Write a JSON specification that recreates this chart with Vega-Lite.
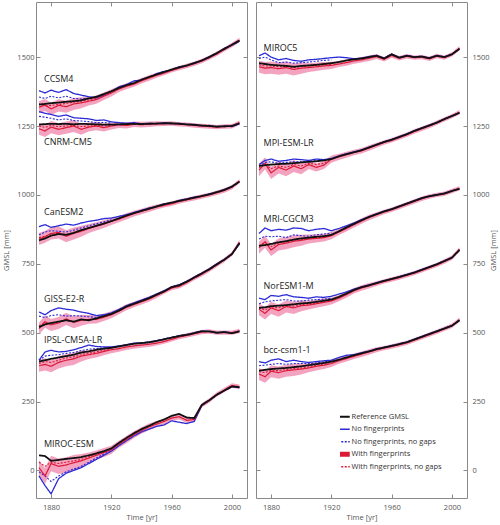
{
"$schema": "https://vega.github.io/schema/vega-lite/v6.json",
"padding": {"left": 2, "top": 1, "right": 2, "bottom": 2},
"spacing": 6,
"datasets": {
"series": [
{"p":1,"m":"CCSM4","t":1872,"r":1328,"nf":1378,"ng":1355,"wf":1318,"wg":1330,"lo":1296,"hi":1340},
{"p":1,"m":"CCSM4","t":1876,"r":1330,"nf":1370,"ng":1350,"wf":1326,"wg":1322,"lo":1304,"hi":1348},
{"p":1,"m":"CCSM4","t":1880,"r":1333,"nf":1380,"ng":1358,"wf":1312,"wg":1325,"lo":1290,"hi":1334},
{"p":1,"m":"CCSM4","t":1885,"r":1335,"nf":1372,"ng":1352,"wf":1325,"wg":1328,"lo":1303,"hi":1347},
{"p":1,"m":"CCSM4","t":1890,"r":1338,"nf":1382,"ng":1358,"wf":1320,"wg":1332,"lo":1298,"hi":1342},
{"p":1,"m":"CCSM4","t":1895,"r":1340,"nf":1368,"ng":1350,"wf":1330,"wg":1336,"lo":1308,"hi":1352},
{"p":1,"m":"CCSM4","t":1900,"r":1343,"nf":1362,"ng":1348,"wf":1334,"wg":1340,"lo":1314,"hi":1354},
{"p":1,"m":"CCSM4","t":1905,"r":1350,"nf":1356,"ng":1350,"wf":1340,"wg":1345,"lo":1324,"hi":1356},
{"p":1,"m":"CCSM4","t":1910,"r":1356,"nf":1352,"ng":1352,"wf":1346,"wg":1352,"lo":1331,"hi":1361},
{"p":1,"m":"CCSM4","t":1915,"r":1366,"nf":1362,"ng":1362,"wf":1358,"wg":1362,"lo":1344,"hi":1372},
{"p":1,"m":"CCSM4","t":1920,"r":1376,"nf":1376,"ng":1375,"wf":1370,"wg":1372,"lo":1357,"hi":1383},
{"p":1,"m":"CCSM4","t":1925,"r":1388,"nf":1392,"wf":1384,"lo":1373,"hi":1395},
{"p":1,"m":"CCSM4","t":1930,"r":1398,"nf":1400,"wf":1394,"lo":1383,"hi":1405},
{"p":1,"m":"CCSM4","t":1935,"r":1406,"nf":1414,"wf":1402,"lo":1392,"hi":1412},
{"p":1,"m":"CCSM4","t":1940,"r":1418,"nf":1416,"wf":1414,"lo":1404,"hi":1424},
{"p":1,"m":"CCSM4","t":1945,"r":1428,"nf":1426,"wf":1424,"lo":1414,"hi":1434},
{"p":1,"m":"CCSM4","t":1950,"r":1437,"nf":1440,"wf":1434,"lo":1425,"hi":1443},
{"p":1,"m":"CCSM4","t":1955,"r":1446,"nf":1448,"wf":1442,"lo":1434,"hi":1450},
{"p":1,"m":"CCSM4","t":1960,"r":1455,"nf":1452,"wf":1452,"lo":1444,"hi":1460},
{"p":1,"m":"CCSM4","t":1965,"r":1463,"nf":1465,"wf":1460,"lo":1452,"hi":1468},
{"p":1,"m":"CCSM4","t":1970,"r":1470,"nf":1468,"wf":1468,"lo":1460,"hi":1476},
{"p":1,"m":"CCSM4","t":1975,"r":1478,"nf":1480,"wf":1476,"lo":1468,"hi":1484},
{"p":1,"m":"CCSM4","t":1980,"r":1488,"nf":1486,"wf":1486,"lo":1478,"hi":1494},
{"p":1,"m":"CCSM4","t":1985,"r":1500,"nf":1502,"wf":1498,"lo":1490,"hi":1506},
{"p":1,"m":"CCSM4","t":1990,"r":1515,"nf":1512,"wf":1512,"lo":1504,"hi":1520},
{"p":1,"m":"CCSM4","t":1995,"r":1530,"nf":1532,"wf":1528,"lo":1520,"hi":1536},
{"p":1,"m":"CCSM4","t":2000,"r":1545,"nf":1543,"wf":1544,"lo":1536,"hi":1552},
{"p":1,"m":"CCSM4","t":2005,"r":1560,"nf":1558,"wf":1562,"lo":1554,"hi":1570},

{"p":1,"m":"CNRM-CM5","t":1872,"r":1255,"nf":1302,"ng":1285,"wf":1240,"wg":1250,"lo":1218,"hi":1262},
{"p":1,"m":"CNRM-CM5","t":1876,"r":1257,"nf":1296,"ng":1282,"wf":1232,"wg":1245,"lo":1210,"hi":1254},
{"p":1,"m":"CNRM-CM5","t":1880,"r":1258,"nf":1292,"ng":1278,"wf":1246,"wg":1252,"lo":1224,"hi":1268},
{"p":1,"m":"CNRM-CM5","t":1885,"r":1257,"nf":1285,"ng":1272,"wf":1238,"wg":1248,"lo":1216,"hi":1260},
{"p":1,"m":"CNRM-CM5","t":1890,"r":1258,"nf":1290,"ng":1276,"wf":1244,"wg":1250,"lo":1222,"hi":1266},
{"p":1,"m":"CNRM-CM5","t":1895,"r":1256,"nf":1280,"ng":1270,"wf":1250,"wg":1252,"lo":1228,"hi":1272},
{"p":1,"m":"CNRM-CM5","t":1900,"r":1258,"nf":1278,"ng":1268,"wf":1238,"wg":1248,"lo":1218,"hi":1258},
{"p":1,"m":"CNRM-CM5","t":1905,"r":1257,"nf":1276,"ng":1266,"wf":1246,"wg":1250,"lo":1230,"hi":1262},
{"p":1,"m":"CNRM-CM5","t":1910,"r":1256,"nf":1270,"ng":1262,"wf":1250,"wg":1252,"lo":1235,"hi":1265},
{"p":1,"m":"CNRM-CM5","t":1915,"r":1255,"nf":1272,"ng":1263,"wf":1244,"wg":1250,"lo":1230,"hi":1258},
{"p":1,"m":"CNRM-CM5","t":1920,"r":1255,"nf":1265,"ng":1260,"wf":1250,"wg":1253,"lo":1237,"hi":1263},
{"p":1,"m":"CNRM-CM5","t":1925,"r":1256,"nf":1262,"wf":1254,"lo":1243,"hi":1265},
{"p":1,"m":"CNRM-CM5","t":1930,"r":1257,"nf":1260,"wf":1252,"lo":1241,"hi":1263},
{"p":1,"m":"CNRM-CM5","t":1935,"r":1258,"nf":1262,"wf":1256,"lo":1246,"hi":1266},
{"p":1,"m":"CNRM-CM5","t":1940,"r":1257,"nf":1258,"wf":1255,"lo":1245,"hi":1265},
{"p":1,"m":"CNRM-CM5","t":1945,"r":1258,"nf":1260,"wf":1256,"lo":1246,"hi":1266},
{"p":1,"m":"CNRM-CM5","t":1950,"r":1259,"nf":1258,"wf":1258,"lo":1249,"hi":1267},
{"p":1,"m":"CNRM-CM5","t":1955,"r":1260,"nf":1262,"wf":1258,"lo":1250,"hi":1266},
{"p":1,"m":"CNRM-CM5","t":1960,"r":1260,"nf":1258,"wf":1259,"lo":1251,"hi":1267},
{"p":1,"m":"CNRM-CM5","t":1965,"r":1258,"nf":1260,"wf":1256,"lo":1248,"hi":1264},
{"p":1,"m":"CNRM-CM5","t":1970,"r":1256,"nf":1255,"wf":1255,"lo":1247,"hi":1263},
{"p":1,"m":"CNRM-CM5","t":1975,"r":1254,"nf":1256,"wf":1252,"lo":1244,"hi":1260},
{"p":1,"m":"CNRM-CM5","t":1980,"r":1252,"nf":1250,"wf":1250,"lo":1242,"hi":1258},
{"p":1,"m":"CNRM-CM5","t":1985,"r":1250,"nf":1252,"wf":1248,"lo":1240,"hi":1256},
{"p":1,"m":"CNRM-CM5","t":1990,"r":1248,"nf":1246,"wf":1246,"lo":1238,"hi":1254},
{"p":1,"m":"CNRM-CM5","t":1995,"r":1249,"nf":1250,"wf":1248,"lo":1240,"hi":1256},
{"p":1,"m":"CNRM-CM5","t":2000,"r":1250,"nf":1248,"wf":1249,"lo":1241,"hi":1257},
{"p":1,"m":"CNRM-CM5","t":2005,"r":1260,"nf":1258,"wf":1262,"lo":1254,"hi":1270},

{"p":1,"m":"CanESM2","t":1872,"r":835,"nf":885,"ng":855,"wf":840,"wg":845,"lo":818,"hi":862},
{"p":1,"m":"CanESM2","t":1876,"r":842,"nf":892,"ng":865,"wf":848,"wg":850,"lo":826,"hi":870},
{"p":1,"m":"CanESM2","t":1880,"r":852,"nf":882,"ng":870,"wf":860,"wg":858,"lo":838,"hi":882},
{"p":1,"m":"CanESM2","t":1885,"r":858,"nf":888,"ng":868,"wf":864,"wg":860,"lo":842,"hi":886},
{"p":1,"m":"CanESM2","t":1890,"r":855,"nf":894,"ng":865,"wf":850,"wg":856,"lo":828,"hi":872},
{"p":1,"m":"CanESM2","t":1895,"r":862,"nf":890,"ng":872,"wf":860,"wg":864,"lo":838,"hi":882},
{"p":1,"m":"CanESM2","t":1900,"r":872,"nf":898,"ng":880,"wf":868,"wg":872,"lo":848,"hi":888},
{"p":1,"m":"CanESM2","t":1905,"r":880,"nf":904,"ng":888,"wf":878,"wg":880,"lo":862,"hi":894},
{"p":1,"m":"CanESM2","t":1910,"r":888,"nf":908,"ng":895,"wf":886,"wg":888,"lo":871,"hi":901},
{"p":1,"m":"CanESM2","t":1915,"r":896,"nf":914,"ng":902,"wf":894,"wg":896,"lo":880,"hi":908},
{"p":1,"m":"CanESM2","t":1920,"r":905,"nf":916,"ng":910,"wf":904,"wg":905,"lo":891,"hi":917},
{"p":1,"m":"CanESM2","t":1925,"r":915,"nf":922,"wf":912,"lo":901,"hi":923},
{"p":1,"m":"CanESM2","t":1930,"r":925,"nf":928,"wf":922,"lo":911,"hi":933},
{"p":1,"m":"CanESM2","t":1935,"r":934,"nf":936,"wf":932,"lo":922,"hi":942},
{"p":1,"m":"CanESM2","t":1940,"r":942,"nf":944,"wf":940,"lo":930,"hi":950},
{"p":1,"m":"CanESM2","t":1945,"r":950,"nf":952,"wf":948,"lo":938,"hi":958},
{"p":1,"m":"CanESM2","t":1950,"r":958,"nf":958,"wf":956,"lo":947,"hi":965},
{"p":1,"m":"CanESM2","t":1955,"r":966,"nf":968,"wf":962,"lo":954,"hi":970},
{"p":1,"m":"CanESM2","t":1960,"r":972,"nf":970,"wf":968,"lo":960,"hi":976},
{"p":1,"m":"CanESM2","t":1965,"r":978,"nf":980,"wf":976,"lo":968,"hi":984},
{"p":1,"m":"CanESM2","t":1970,"r":984,"nf":985,"wf":982,"lo":974,"hi":990},
{"p":1,"m":"CanESM2","t":1975,"r":990,"nf":992,"wf":988,"lo":980,"hi":996},
{"p":1,"m":"CanESM2","t":1980,"r":996,"nf":995,"wf":994,"lo":986,"hi":1002},
{"p":1,"m":"CanESM2","t":1985,"r":1002,"nf":1004,"wf":1000,"lo":992,"hi":1008},
{"p":1,"m":"CanESM2","t":1990,"r":1010,"nf":1010,"wf":1008,"lo":1000,"hi":1016},
{"p":1,"m":"CanESM2","t":1995,"r":1018,"nf":1020,"wf":1016,"lo":1008,"hi":1024},
{"p":1,"m":"CanESM2","t":2000,"r":1030,"nf":1030,"wf":1028,"lo":1020,"hi":1036},
{"p":1,"m":"CanESM2","t":2005,"r":1048,"nf":1048,"wf":1050,"lo":1042,"hi":1058},

{"p":1,"m":"GISS-E2-R","t":1872,"r":520,"nf":575,"ng":560,"wf":515,"wg":525,"lo":493,"hi":537},
{"p":1,"m":"GISS-E2-R","t":1876,"r":530,"nf":565,"ng":555,"wf":540,"wg":535,"lo":518,"hi":562},
{"p":1,"m":"GISS-E2-R","t":1880,"r":535,"nf":580,"ng":562,"wf":528,"wg":532,"lo":506,"hi":550},
{"p":1,"m":"GISS-E2-R","t":1885,"r":540,"nf":590,"ng":565,"wf":535,"wg":538,"lo":513,"hi":557},
{"p":1,"m":"GISS-E2-R","t":1890,"r":545,"nf":585,"ng":560,"wf":550,"wg":545,"lo":528,"hi":572},
{"p":1,"m":"GISS-E2-R","t":1895,"r":540,"nf":582,"ng":562,"wf":538,"wg":540,"lo":516,"hi":560},
{"p":1,"m":"GISS-E2-R","t":1900,"r":548,"nf":575,"ng":560,"wf":545,"wg":546,"lo":525,"hi":565},
{"p":1,"m":"GISS-E2-R","t":1905,"r":545,"nf":570,"ng":558,"wf":548,"wg":546,"lo":532,"hi":564},
{"p":1,"m":"GISS-E2-R","t":1910,"r":552,"nf":562,"ng":555,"wf":548,"wg":550,"lo":533,"hi":563},
{"p":1,"m":"GISS-E2-R","t":1915,"r":560,"nf":565,"ng":562,"wf":556,"wg":558,"lo":542,"hi":570},
{"p":1,"m":"GISS-E2-R","t":1920,"r":568,"nf":572,"ng":568,"wf":565,"wg":566,"lo":552,"hi":578},
{"p":1,"m":"GISS-E2-R","t":1925,"r":580,"nf":584,"wf":578,"lo":567,"hi":589},
{"p":1,"m":"GISS-E2-R","t":1930,"r":595,"nf":598,"wf":592,"lo":581,"hi":603},
{"p":1,"m":"GISS-E2-R","t":1935,"r":605,"nf":608,"wf":602,"lo":592,"hi":612},
{"p":1,"m":"GISS-E2-R","t":1940,"r":615,"nf":618,"wf":612,"lo":602,"hi":622},
{"p":1,"m":"GISS-E2-R","t":1945,"r":625,"nf":628,"wf":622,"lo":612,"hi":632},
{"p":1,"m":"GISS-E2-R","t":1950,"r":638,"nf":640,"wf":635,"lo":626,"hi":644},
{"p":1,"m":"GISS-E2-R","t":1955,"r":650,"nf":652,"wf":648,"lo":640,"hi":656},
{"p":1,"m":"GISS-E2-R","t":1960,"r":665,"nf":666,"wf":662,"lo":654,"hi":670},
{"p":1,"m":"GISS-E2-R","t":1965,"r":672,"nf":674,"wf":668,"lo":660,"hi":676},
{"p":1,"m":"GISS-E2-R","t":1970,"r":685,"nf":686,"wf":682,"lo":674,"hi":690},
{"p":1,"m":"GISS-E2-R","t":1975,"r":700,"nf":702,"wf":698,"lo":690,"hi":706},
{"p":1,"m":"GISS-E2-R","t":1980,"r":715,"nf":716,"wf":712,"lo":704,"hi":720},
{"p":1,"m":"GISS-E2-R","t":1985,"r":730,"nf":732,"wf":728,"lo":720,"hi":736},
{"p":1,"m":"GISS-E2-R","t":1990,"r":748,"nf":750,"wf":746,"lo":738,"hi":754},
{"p":1,"m":"GISS-E2-R","t":1995,"r":765,"nf":766,"wf":764,"lo":756,"hi":772},
{"p":1,"m":"GISS-E2-R","t":2000,"r":785,"nf":786,"wf":786,"lo":778,"hi":794},
{"p":1,"m":"GISS-E2-R","t":2005,"r":825,"nf":822,"wf":828,"lo":820,"hi":836},

{"p":1,"m":"IPSL-CM5A-LR","t":1872,"r":395,"nf":400,"ng":400,"wf":380,"wg":388,"lo":358,"hi":402},
{"p":1,"m":"IPSL-CM5A-LR","t":1876,"r":400,"nf":430,"ng":415,"wf":385,"wg":395,"lo":363,"hi":407},
{"p":1,"m":"IPSL-CM5A-LR","t":1880,"r":405,"nf":436,"ng":418,"wf":378,"wg":392,"lo":356,"hi":400},
{"p":1,"m":"IPSL-CM5A-LR","t":1885,"r":410,"nf":430,"ng":420,"wf":392,"wg":400,"lo":370,"hi":414},
{"p":1,"m":"IPSL-CM5A-LR","t":1890,"r":415,"nf":432,"ng":425,"wf":400,"wg":408,"lo":378,"hi":422},
{"p":1,"m":"IPSL-CM5A-LR","t":1895,"r":420,"nf":438,"ng":428,"wf":405,"wg":412,"lo":383,"hi":427},
{"p":1,"m":"IPSL-CM5A-LR","t":1900,"r":428,"nf":446,"ng":435,"wf":415,"wg":420,"lo":395,"hi":435},
{"p":1,"m":"IPSL-CM5A-LR","t":1905,"r":432,"nf":455,"ng":440,"wf":420,"wg":426,"lo":404,"hi":436},
{"p":1,"m":"IPSL-CM5A-LR","t":1910,"r":438,"nf":450,"ng":442,"wf":425,"wg":430,"lo":410,"hi":440},
{"p":1,"m":"IPSL-CM5A-LR","t":1915,"r":442,"nf":448,"ng":444,"wf":432,"wg":436,"lo":418,"hi":446},
{"p":1,"m":"IPSL-CM5A-LR","t":1920,"r":445,"nf":448,"ng":446,"wf":438,"wg":440,"lo":425,"hi":451},
{"p":1,"m":"IPSL-CM5A-LR","t":1925,"r":450,"nf":452,"wf":442,"lo":431,"hi":453},
{"p":1,"m":"IPSL-CM5A-LR","t":1930,"r":455,"nf":456,"wf":448,"lo":437,"hi":459},
{"p":1,"m":"IPSL-CM5A-LR","t":1935,"r":460,"nf":462,"wf":452,"lo":442,"hi":462},
{"p":1,"m":"IPSL-CM5A-LR","t":1940,"r":462,"nf":463,"wf":455,"lo":445,"hi":465},
{"p":1,"m":"IPSL-CM5A-LR","t":1945,"r":465,"nf":466,"wf":458,"lo":448,"hi":468},
{"p":1,"m":"IPSL-CM5A-LR","t":1950,"r":470,"nf":471,"wf":462,"lo":453,"hi":471},
{"p":1,"m":"IPSL-CM5A-LR","t":1955,"r":476,"nf":477,"wf":468,"lo":460,"hi":476},
{"p":1,"m":"IPSL-CM5A-LR","t":1960,"r":482,"nf":483,"wf":476,"lo":468,"hi":484},
{"p":1,"m":"IPSL-CM5A-LR","t":1965,"r":488,"nf":489,"wf":484,"lo":476,"hi":492},
{"p":1,"m":"IPSL-CM5A-LR","t":1970,"r":492,"nf":493,"wf":490,"lo":482,"hi":498},
{"p":1,"m":"IPSL-CM5A-LR","t":1975,"r":498,"nf":499,"wf":496,"lo":488,"hi":504},
{"p":1,"m":"IPSL-CM5A-LR","t":1980,"r":505,"nf":506,"wf":502,"lo":494,"hi":510},
{"p":1,"m":"IPSL-CM5A-LR","t":1985,"r":505,"nf":504,"wf":504,"lo":496,"hi":512},
{"p":1,"m":"IPSL-CM5A-LR","t":1990,"r":500,"nf":499,"wf":500,"lo":492,"hi":508},
{"p":1,"m":"IPSL-CM5A-LR","t":1995,"r":502,"nf":503,"wf":500,"lo":492,"hi":508},
{"p":1,"m":"IPSL-CM5A-LR","t":2000,"r":498,"nf":499,"wf":500,"lo":492,"hi":508},
{"p":1,"m":"IPSL-CM5A-LR","t":2005,"r":505,"nf":506,"wf":506,"lo":498,"hi":514},

{"p":1,"m":"MIROC-ESM","t":1872,"r":55,"nf":-20,"ng":-5,"wf":10,"wg":30,"lo":-18,"hi":38},
{"p":1,"m":"MIROC-ESM","t":1876,"r":52,"nf":-55,"ng":-20,"wf":-20,"wg":15,"lo":-48,"hi":8},
{"p":1,"m":"MIROC-ESM","t":1880,"r":35,"nf":-85,"ng":-40,"wf":25,"wg":30,"lo":-3,"hi":53},
{"p":1,"m":"MIROC-ESM","t":1885,"r":38,"nf":-30,"ng":-20,"wf":15,"wg":25,"lo":-13,"hi":43},
{"p":1,"m":"MIROC-ESM","t":1890,"r":42,"nf":-10,"ng":-5,"wf":20,"wg":30,"lo":-8,"hi":48},
{"p":1,"m":"MIROC-ESM","t":1895,"r":45,"nf":0,"ng":5,"wf":28,"wg":35,"lo":0,"hi":56},
{"p":1,"m":"MIROC-ESM","t":1900,"r":48,"nf":10,"ng":15,"wf":35,"wg":40,"lo":10,"hi":60},
{"p":1,"m":"MIROC-ESM","t":1905,"r":55,"nf":25,"ng":30,"wf":45,"wg":50,"lo":25,"hi":65},
{"p":1,"m":"MIROC-ESM","t":1910,"r":62,"nf":40,"ng":45,"wf":55,"wg":58,"lo":38,"hi":72},
{"p":1,"m":"MIROC-ESM","t":1915,"r":70,"nf":55,"ng":60,"wf":65,"wg":68,"lo":49,"hi":81},
{"p":1,"m":"MIROC-ESM","t":1920,"r":80,"nf":70,"ng":72,"wf":75,"wg":78,"lo":60,"hi":90},
{"p":1,"m":"MIROC-ESM","t":1925,"r":100,"nf":90,"wf":95,"lo":82,"hi":108},
{"p":1,"m":"MIROC-ESM","t":1930,"r":118,"nf":108,"wf":112,"lo":99,"hi":125},
{"p":1,"m":"MIROC-ESM","t":1935,"r":135,"nf":125,"wf":130,"lo":118,"hi":142},
{"p":1,"m":"MIROC-ESM","t":1940,"r":150,"nf":140,"wf":145,"lo":133,"hi":157},
{"p":1,"m":"MIROC-ESM","t":1945,"r":162,"nf":150,"wf":158,"lo":146,"hi":170},
{"p":1,"m":"MIROC-ESM","t":1950,"r":175,"nf":160,"wf":168,"lo":157,"hi":179},
{"p":1,"m":"MIROC-ESM","t":1955,"r":185,"nf":165,"wf":178,"lo":168,"hi":188},
{"p":1,"m":"MIROC-ESM","t":1960,"r":198,"nf":180,"wf":190,"lo":180,"hi":200},
{"p":1,"m":"MIROC-ESM","t":1965,"r":205,"nf":175,"wf":195,"lo":185,"hi":205},
{"p":1,"m":"MIROC-ESM","t":1970,"r":192,"nf":170,"wf":182,"lo":172,"hi":192},
{"p":1,"m":"MIROC-ESM","t":1975,"r":190,"nf":178,"wf":185,"lo":175,"hi":195},
{"p":1,"m":"MIROC-ESM","t":1980,"r":238,"nf":235,"wf":236,"lo":228,"hi":244},
{"p":1,"m":"MIROC-ESM","t":1985,"r":255,"nf":254,"wf":254,"lo":246,"hi":262},
{"p":1,"m":"MIROC-ESM","t":1990,"r":275,"nf":274,"wf":276,"lo":268,"hi":284},
{"p":1,"m":"MIROC-ESM","t":1995,"r":290,"nf":290,"wf":292,"lo":284,"hi":300},
{"p":1,"m":"MIROC-ESM","t":2000,"r":305,"nf":304,"wf":308,"lo":300,"hi":316},
{"p":1,"m":"MIROC-ESM","t":2005,"r":302,"nf":300,"wf":304,"lo":296,"hi":312},

{"p":2,"m":"MIROC5","t":1872,"r":1478,"nf":1505,"ng":1495,"wf":1465,"wg":1472,"lo":1443,"hi":1487},
{"p":2,"m":"MIROC5","t":1876,"r":1475,"nf":1515,"ng":1500,"wf":1460,"wg":1468,"lo":1438,"hi":1482},
{"p":2,"m":"MIROC5","t":1880,"r":1472,"nf":1500,"ng":1490,"wf":1462,"wg":1468,"lo":1440,"hi":1484},
{"p":2,"m":"MIROC5","t":1885,"r":1470,"nf":1490,"ng":1480,"wf":1458,"wg":1465,"lo":1436,"hi":1480},
{"p":2,"m":"MIROC5","t":1890,"r":1468,"nf":1495,"ng":1482,"wf":1462,"wg":1466,"lo":1440,"hi":1484},
{"p":2,"m":"MIROC5","t":1895,"r":1465,"nf":1488,"ng":1478,"wf":1455,"wg":1462,"lo":1433,"hi":1477},
{"p":2,"m":"MIROC5","t":1900,"r":1468,"nf":1485,"ng":1480,"wf":1460,"wg":1465,"lo":1440,"hi":1480},
{"p":2,"m":"MIROC5","t":1905,"r":1470,"nf":1490,"ng":1482,"wf":1462,"wg":1467,"lo":1446,"hi":1478},
{"p":2,"m":"MIROC5","t":1910,"r":1472,"nf":1492,"ng":1485,"wf":1465,"wg":1470,"lo":1450,"hi":1480},
{"p":2,"m":"MIROC5","t":1915,"r":1475,"nf":1495,"ng":1488,"wf":1468,"wg":1472,"lo":1454,"hi":1482},
{"p":2,"m":"MIROC5","t":1920,"r":1478,"nf":1498,"ng":1490,"wf":1470,"wg":1474,"lo":1457,"hi":1483},
{"p":2,"m":"MIROC5","t":1925,"r":1482,"nf":1500,"wf":1475,"lo":1464,"hi":1486},
{"p":2,"m":"MIROC5","t":1930,"r":1488,"nf":1498,"wf":1480,"lo":1469,"hi":1491},
{"p":2,"m":"MIROC5","t":1935,"r":1492,"nf":1494,"wf":1486,"lo":1476,"hi":1496},
{"p":2,"m":"MIROC5","t":1940,"r":1495,"nf":1496,"wf":1490,"lo":1480,"hi":1500},
{"p":2,"m":"MIROC5","t":1945,"r":1500,"nf":1502,"wf":1496,"lo":1486,"hi":1506},
{"p":2,"m":"MIROC5","t":1950,"r":1505,"nf":1506,"wf":1502,"lo":1493,"hi":1511},
{"p":2,"m":"MIROC5","t":1955,"r":1495,"nf":1496,"wf":1492,"lo":1484,"hi":1500},
{"p":2,"m":"MIROC5","t":1960,"r":1510,"nf":1511,"wf":1506,"lo":1498,"hi":1514},
{"p":2,"m":"MIROC5","t":1965,"r":1498,"nf":1499,"wf":1496,"lo":1488,"hi":1504},
{"p":2,"m":"MIROC5","t":1970,"r":1505,"nf":1506,"wf":1503,"lo":1495,"hi":1511},
{"p":2,"m":"MIROC5","t":1975,"r":1500,"nf":1501,"wf":1498,"lo":1490,"hi":1506},
{"p":2,"m":"MIROC5","t":1980,"r":1502,"nf":1503,"wf":1500,"lo":1492,"hi":1508},
{"p":2,"m":"MIROC5","t":1985,"r":1496,"nf":1497,"wf":1494,"lo":1486,"hi":1502},
{"p":2,"m":"MIROC5","t":1990,"r":1505,"nf":1506,"wf":1504,"lo":1496,"hi":1512},
{"p":2,"m":"MIROC5","t":1995,"r":1500,"nf":1501,"wf":1498,"lo":1490,"hi":1506},
{"p":2,"m":"MIROC5","t":2000,"r":1510,"nf":1511,"wf":1510,"lo":1502,"hi":1518},
{"p":2,"m":"MIROC5","t":2005,"r":1530,"nf":1530,"wf":1532,"lo":1524,"hi":1540},

{"p":2,"m":"MPI-ESM-LR","t":1872,"r":1105,"nf":1110,"ng":1105,"wf":1090,"wg":1098,"lo":1068,"hi":1112},
{"p":2,"m":"MPI-ESM-LR","t":1876,"r":1108,"nf":1125,"ng":1118,"wf":1115,"wg":1110,"lo":1093,"hi":1137},
{"p":2,"m":"MPI-ESM-LR","t":1880,"r":1110,"nf":1130,"ng":1120,"wf":1080,"wg":1095,"lo":1058,"hi":1102},
{"p":2,"m":"MPI-ESM-LR","t":1885,"r":1112,"nf":1122,"ng":1115,"wf":1100,"wg":1105,"lo":1078,"hi":1122},
{"p":2,"m":"MPI-ESM-LR","t":1890,"r":1113,"nf":1125,"ng":1118,"wf":1090,"wg":1100,"lo":1068,"hi":1112},
{"p":2,"m":"MPI-ESM-LR","t":1895,"r":1115,"nf":1130,"ng":1120,"wf":1105,"wg":1110,"lo":1083,"hi":1127},
{"p":2,"m":"MPI-ESM-LR","t":1900,"r":1118,"nf":1128,"ng":1120,"wf":1095,"wg":1105,"lo":1075,"hi":1115},
{"p":2,"m":"MPI-ESM-LR","t":1905,"r":1120,"nf":1125,"ng":1122,"wf":1110,"wg":1115,"lo":1094,"hi":1126},
{"p":2,"m":"MPI-ESM-LR","t":1910,"r":1122,"nf":1130,"ng":1124,"wf":1100,"wg":1110,"lo":1085,"hi":1115},
{"p":2,"m":"MPI-ESM-LR","t":1915,"r":1125,"nf":1128,"ng":1126,"wf":1108,"wg":1115,"lo":1094,"hi":1122},
{"p":2,"m":"MPI-ESM-LR","t":1920,"r":1130,"nf":1132,"ng":1130,"wf":1130,"wg":1128,"lo":1117,"hi":1143},
{"p":2,"m":"MPI-ESM-LR","t":1925,"r":1140,"nf":1141,"wf":1138,"lo":1127,"hi":1149},
{"p":2,"m":"MPI-ESM-LR","t":1930,"r":1148,"nf":1149,"wf":1146,"lo":1135,"hi":1157},
{"p":2,"m":"MPI-ESM-LR","t":1935,"r":1155,"nf":1156,"wf":1154,"lo":1144,"hi":1164},
{"p":2,"m":"MPI-ESM-LR","t":1940,"r":1162,"nf":1163,"wf":1160,"lo":1150,"hi":1170},
{"p":2,"m":"MPI-ESM-LR","t":1945,"r":1172,"nf":1173,"wf":1170,"lo":1160,"hi":1180},
{"p":2,"m":"MPI-ESM-LR","t":1950,"r":1182,"nf":1183,"wf":1180,"lo":1171,"hi":1189},
{"p":2,"m":"MPI-ESM-LR","t":1955,"r":1192,"nf":1193,"wf":1190,"lo":1182,"hi":1198},
{"p":2,"m":"MPI-ESM-LR","t":1960,"r":1200,"nf":1201,"wf":1198,"lo":1190,"hi":1206},
{"p":2,"m":"MPI-ESM-LR","t":1965,"r":1210,"nf":1211,"wf":1208,"lo":1200,"hi":1216},
{"p":2,"m":"MPI-ESM-LR","t":1970,"r":1220,"nf":1221,"wf":1218,"lo":1210,"hi":1226},
{"p":2,"m":"MPI-ESM-LR","t":1975,"r":1232,"nf":1233,"wf":1230,"lo":1222,"hi":1238},
{"p":2,"m":"MPI-ESM-LR","t":1980,"r":1242,"nf":1243,"wf":1240,"lo":1232,"hi":1248},
{"p":2,"m":"MPI-ESM-LR","t":1985,"r":1252,"nf":1253,"wf":1250,"lo":1242,"hi":1258},
{"p":2,"m":"MPI-ESM-LR","t":1990,"r":1262,"nf":1263,"wf":1262,"lo":1254,"hi":1270},
{"p":2,"m":"MPI-ESM-LR","t":1995,"r":1275,"nf":1276,"wf":1274,"lo":1266,"hi":1282},
{"p":2,"m":"MPI-ESM-LR","t":2000,"r":1286,"nf":1287,"wf":1286,"lo":1278,"hi":1294},
{"p":2,"m":"MPI-ESM-LR","t":2005,"r":1298,"nf":1298,"wf":1300,"lo":1292,"hi":1308},

{"p":2,"m":"MRI-CGCM3","t":1872,"r":815,"nf":860,"ng":840,"wf":808,"wg":815,"lo":786,"hi":830},
{"p":2,"m":"MRI-CGCM3","t":1876,"r":818,"nf":880,"ng":850,"wf":830,"wg":828,"lo":808,"hi":852},
{"p":2,"m":"MRI-CGCM3","t":1880,"r":822,"nf":870,"ng":848,"wf":800,"wg":812,"lo":778,"hi":822},
{"p":2,"m":"MRI-CGCM3","t":1885,"r":828,"nf":875,"ng":850,"wf":820,"wg":825,"lo":798,"hi":842},
{"p":2,"m":"MRI-CGCM3","t":1890,"r":832,"nf":872,"ng":845,"wf":825,"wg":830,"lo":803,"hi":847},
{"p":2,"m":"MRI-CGCM3","t":1895,"r":838,"nf":880,"ng":855,"wf":832,"wg":835,"lo":810,"hi":854},
{"p":2,"m":"MRI-CGCM3","t":1900,"r":842,"nf":878,"ng":852,"wf":835,"wg":838,"lo":815,"hi":855},
{"p":2,"m":"MRI-CGCM3","t":1905,"r":845,"nf":870,"ng":850,"wf":840,"wg":842,"lo":824,"hi":856},
{"p":2,"m":"MRI-CGCM3","t":1910,"r":848,"nf":875,"ng":855,"wf":842,"wg":845,"lo":827,"hi":857},
{"p":2,"m":"MRI-CGCM3","t":1915,"r":850,"nf":878,"ng":858,"wf":845,"wg":848,"lo":831,"hi":859},
{"p":2,"m":"MRI-CGCM3","t":1920,"r":855,"nf":870,"ng":862,"wf":852,"wg":854,"lo":839,"hi":865},
{"p":2,"m":"MRI-CGCM3","t":1925,"r":868,"nf":878,"wf":865,"lo":854,"hi":876},
{"p":2,"m":"MRI-CGCM3","t":1930,"r":882,"nf":888,"wf":878,"lo":867,"hi":889},
{"p":2,"m":"MRI-CGCM3","t":1935,"r":895,"nf":898,"wf":892,"lo":882,"hi":902},
{"p":2,"m":"MRI-CGCM3","t":1940,"r":908,"nf":910,"wf":905,"lo":895,"hi":915},
{"p":2,"m":"MRI-CGCM3","t":1945,"r":920,"nf":921,"wf":918,"lo":908,"hi":928},
{"p":2,"m":"MRI-CGCM3","t":1950,"r":930,"nf":931,"wf":928,"lo":919,"hi":937},
{"p":2,"m":"MRI-CGCM3","t":1955,"r":940,"nf":941,"wf":938,"lo":930,"hi":946},
{"p":2,"m":"MRI-CGCM3","t":1960,"r":948,"nf":949,"wf":946,"lo":938,"hi":954},
{"p":2,"m":"MRI-CGCM3","t":1965,"r":958,"nf":959,"wf":956,"lo":948,"hi":964},
{"p":2,"m":"MRI-CGCM3","t":1970,"r":968,"nf":969,"wf":966,"lo":958,"hi":974},
{"p":2,"m":"MRI-CGCM3","t":1975,"r":978,"nf":979,"wf":976,"lo":968,"hi":984},
{"p":2,"m":"MRI-CGCM3","t":1980,"r":988,"nf":989,"wf":986,"lo":978,"hi":994},
{"p":2,"m":"MRI-CGCM3","t":1985,"r":995,"nf":996,"wf":994,"lo":986,"hi":1002},
{"p":2,"m":"MRI-CGCM3","t":1990,"r":1000,"nf":1001,"wf":1000,"lo":992,"hi":1008},
{"p":2,"m":"MRI-CGCM3","t":1995,"r":1005,"nf":1006,"wf":1004,"lo":996,"hi":1012},
{"p":2,"m":"MRI-CGCM3","t":2000,"r":1014,"nf":1015,"wf":1014,"lo":1006,"hi":1022},
{"p":2,"m":"MRI-CGCM3","t":2005,"r":1022,"nf":1022,"wf":1024,"lo":1016,"hi":1032},

{"p":2,"m":"NorESM1-M","t":1872,"r":590,"nf":625,"ng":605,"wf":585,"wg":590,"lo":563,"hi":607},
{"p":2,"m":"NorESM1-M","t":1876,"r":592,"nf":620,"ng":612,"wf":570,"wg":582,"lo":548,"hi":592},
{"p":2,"m":"NorESM1-M","t":1880,"r":596,"nf":635,"ng":615,"wf":590,"wg":594,"lo":568,"hi":612},
{"p":2,"m":"NorESM1-M","t":1885,"r":598,"nf":632,"ng":618,"wf":580,"wg":590,"lo":558,"hi":602},
{"p":2,"m":"NorESM1-M","t":1890,"r":600,"nf":638,"ng":620,"wf":595,"wg":598,"lo":573,"hi":617},
{"p":2,"m":"NorESM1-M","t":1895,"r":603,"nf":630,"ng":615,"wf":590,"wg":596,"lo":568,"hi":612},
{"p":2,"m":"NorESM1-M","t":1900,"r":606,"nf":628,"ng":615,"wf":598,"wg":602,"lo":578,"hi":618},
{"p":2,"m":"NorESM1-M","t":1905,"r":608,"nf":625,"ng":618,"wf":600,"wg":604,"lo":584,"hi":616},
{"p":2,"m":"NorESM1-M","t":1910,"r":612,"nf":630,"ng":620,"wf":605,"wg":608,"lo":590,"hi":620},
{"p":2,"m":"NorESM1-M","t":1915,"r":616,"nf":628,"ng":622,"wf":610,"wg":612,"lo":596,"hi":624},
{"p":2,"m":"NorESM1-M","t":1920,"r":620,"nf":632,"ng":625,"wf":615,"wg":618,"lo":602,"hi":628},
{"p":2,"m":"NorESM1-M","t":1925,"r":630,"nf":640,"wf":625,"lo":614,"hi":636},
{"p":2,"m":"NorESM1-M","t":1930,"r":642,"nf":648,"wf":638,"lo":627,"hi":649},
{"p":2,"m":"NorESM1-M","t":1935,"r":655,"nf":658,"wf":652,"lo":642,"hi":662},
{"p":2,"m":"NorESM1-M","t":1940,"r":665,"nf":666,"wf":662,"lo":652,"hi":672},
{"p":2,"m":"NorESM1-M","t":1945,"r":672,"nf":673,"wf":670,"lo":660,"hi":680},
{"p":2,"m":"NorESM1-M","t":1950,"r":680,"nf":681,"wf":678,"lo":669,"hi":687},
{"p":2,"m":"NorESM1-M","t":1955,"r":688,"nf":689,"wf":686,"lo":678,"hi":694},
{"p":2,"m":"NorESM1-M","t":1960,"r":695,"nf":696,"wf":693,"lo":685,"hi":701},
{"p":2,"m":"NorESM1-M","t":1965,"r":702,"nf":703,"wf":700,"lo":692,"hi":708},
{"p":2,"m":"NorESM1-M","t":1970,"r":710,"nf":711,"wf":708,"lo":700,"hi":716},
{"p":2,"m":"NorESM1-M","t":1975,"r":718,"nf":719,"wf":716,"lo":708,"hi":724},
{"p":2,"m":"NorESM1-M","t":1980,"r":728,"nf":729,"wf":726,"lo":718,"hi":734},
{"p":2,"m":"NorESM1-M","t":1985,"r":738,"nf":739,"wf":736,"lo":728,"hi":744},
{"p":2,"m":"NorESM1-M","t":1990,"r":748,"nf":749,"wf":746,"lo":738,"hi":754},
{"p":2,"m":"NorESM1-M","t":1995,"r":760,"nf":761,"wf":758,"lo":750,"hi":766},
{"p":2,"m":"NorESM1-M","t":2000,"r":772,"nf":773,"wf":772,"lo":764,"hi":780},
{"p":2,"m":"NorESM1-M","t":2005,"r":800,"nf":800,"wf":802,"lo":794,"hi":810},

{"p":2,"m":"bcc-csm1-1","t":1872,"r":362,"nf":395,"ng":380,"wf":350,"wg":358,"lo":328,"hi":372},
{"p":2,"m":"bcc-csm1-1","t":1876,"r":365,"nf":390,"ng":382,"wf":340,"wg":355,"lo":318,"hi":362},
{"p":2,"m":"bcc-csm1-1","t":1880,"r":368,"nf":400,"ng":385,"wf":360,"wg":364,"lo":338,"hi":382},
{"p":2,"m":"bcc-csm1-1","t":1885,"r":370,"nf":405,"ng":388,"wf":355,"wg":362,"lo":333,"hi":377},
{"p":2,"m":"bcc-csm1-1","t":1890,"r":372,"nf":395,"ng":385,"wf":362,"wg":366,"lo":340,"hi":384},
{"p":2,"m":"bcc-csm1-1","t":1895,"r":375,"nf":400,"ng":388,"wf":365,"wg":370,"lo":343,"hi":387},
{"p":2,"m":"bcc-csm1-1","t":1900,"r":378,"nf":395,"ng":388,"wf":368,"wg":372,"lo":348,"hi":388},
{"p":2,"m":"bcc-csm1-1","t":1905,"r":382,"nf":392,"ng":388,"wf":372,"wg":376,"lo":356,"hi":388},
{"p":2,"m":"bcc-csm1-1","t":1910,"r":386,"nf":395,"ng":390,"wf":378,"wg":382,"lo":363,"hi":393},
{"p":2,"m":"bcc-csm1-1","t":1915,"r":390,"nf":398,"ng":394,"wf":382,"wg":386,"lo":368,"hi":396},
{"p":2,"m":"bcc-csm1-1","t":1920,"r":395,"nf":400,"ng":398,"wf":388,"wg":392,"lo":375,"hi":401},
{"p":2,"m":"bcc-csm1-1","t":1925,"r":402,"nf":410,"wf":398,"lo":387,"hi":409},
{"p":2,"m":"bcc-csm1-1","t":1930,"r":410,"nf":418,"wf":406,"lo":395,"hi":417},
{"p":2,"m":"bcc-csm1-1","t":1935,"r":418,"nf":420,"wf":414,"lo":404,"hi":424},
{"p":2,"m":"bcc-csm1-1","t":1940,"r":425,"nf":427,"wf":422,"lo":412,"hi":432},
{"p":2,"m":"bcc-csm1-1","t":1945,"r":432,"nf":433,"wf":430,"lo":420,"hi":440},
{"p":2,"m":"bcc-csm1-1","t":1950,"r":440,"nf":441,"wf":438,"lo":429,"hi":447},
{"p":2,"m":"bcc-csm1-1","t":1955,"r":446,"nf":447,"wf":444,"lo":436,"hi":452},
{"p":2,"m":"bcc-csm1-1","t":1960,"r":452,"nf":453,"wf":450,"lo":442,"hi":458},
{"p":2,"m":"bcc-csm1-1","t":1965,"r":458,"nf":459,"wf":456,"lo":448,"hi":464},
{"p":2,"m":"bcc-csm1-1","t":1970,"r":465,"nf":466,"wf":463,"lo":455,"hi":471},
{"p":2,"m":"bcc-csm1-1","t":1975,"r":475,"nf":476,"wf":473,"lo":465,"hi":481},
{"p":2,"m":"bcc-csm1-1","t":1980,"r":485,"nf":486,"wf":483,"lo":475,"hi":491},
{"p":2,"m":"bcc-csm1-1","t":1985,"r":495,"nf":496,"wf":493,"lo":485,"hi":501},
{"p":2,"m":"bcc-csm1-1","t":1990,"r":505,"nf":506,"wf":503,"lo":495,"hi":511},
{"p":2,"m":"bcc-csm1-1","t":1995,"r":515,"nf":516,"wf":514,"lo":506,"hi":522},
{"p":2,"m":"bcc-csm1-1","t":2000,"r":525,"nf":526,"wf":525,"lo":517,"hi":533},
{"p":2,"m":"bcc-csm1-1","t":2005,"r":545,"nf":545,"wf":547,"lo":539,"hi":555}
],
"labels": [
{"p":1,"m":"CCSM4","t":1875.3,"v":1420},
{"p":1,"m":"CNRM-CM5","t":1875.3,"v":1193},
{"p":1,"m":"CanESM2","t":1875.3,"v":939},
{"p":1,"m":"GISS-E2-R","t":1875.3,"v":621},
{"p":1,"m":"IPSL-CM5A-LR","t":1875.3,"v":473},
{"p":1,"m":"MIROC-ESM","t":1875.3,"v":97},
{"p":2,"m":"MIROC5","t":1875,"v":1532},
{"p":2,"m":"MPI-ESM-LR","t":1875,"v":1189},
{"p":2,"m":"MRI-CGCM3","t":1875,"v":911},
{"p":2,"m":"NorESM1-M","t":1875,"v":669},
{"p":2,"m":"bcc-csm1-1","t":1875,"v":436}
]
},
"hconcat": [
{
"width": 211, "height": 496,
"data": {"name": "series"},
"transform": [{"filter": "datum.p == 1"}],
"resolve": {"axis": {"x": "independent", "y": "independent"}},
"layer": [
{"mark": {"type": "area", "color": "#f08cb0", "opacity": 0.8},
 "encoding": {
  "x": {"field": "t", "type": "quantitative", "scale": {"domain": [1870, 2010], "nice": false, "zero": false},
        "axis": {"orient": "bottom", "values": [1880, 1920, 1960, 2000], "format": "d", "title": "Time [yr]", "labelPadding": 9, "titlePadding": 3}},
  "y": {"field": "lo", "type": "quantitative", "stack": null, "scale": {"domain": [-100, 1700], "nice": false, "zero": false},
        "axis": {"orient": "left", "values": [0, 250, 500, 750, 1000, 1250, 1500], "format": "d", "title": "GMSL [mm]", "labelPadding": 6, "titlePadding": 6}},
  "y2": {"field": "hi"},
  "detail": {"field": "m"}}},
{"mark": {"type": "line", "strokeWidth": 1.3},
 "encoding": {
  "x": {"field": "t", "type": "quantitative", "axis": null},
  "y": {"field": "nf", "type": "quantitative", "axis": null},
  "detail": {"field": "m"},
  "color": {"datum": "No fingerprints", "type": "nominal"},
  "strokeDash": {"datum": "No fingerprints", "type": "nominal"}}},
{"mark": {"type": "line", "strokeWidth": 1.1},
 "encoding": {
  "x": {"field": "t", "type": "quantitative", "axis": null},
  "y": {"field": "ng", "type": "quantitative", "axis": null},
  "detail": {"field": "m"},
  "color": {"datum": "No fingerprints, no gaps", "type": "nominal"},
  "strokeDash": {"datum": "No fingerprints, no gaps", "type": "nominal"}}},
{"mark": {"type": "line", "strokeWidth": 1.2},
 "encoding": {
  "x": {"field": "t", "type": "quantitative", "axis": null},
  "y": {"field": "wf", "type": "quantitative", "axis": null},
  "detail": {"field": "m"},
  "color": {"datum": "With fingerprints", "type": "nominal"},
  "strokeDash": {"datum": "With fingerprints", "type": "nominal"}}},
{"mark": {"type": "line", "strokeWidth": 1.1},
 "encoding": {
  "x": {"field": "t", "type": "quantitative", "axis": null},
  "y": {"field": "wg", "type": "quantitative", "axis": null},
  "detail": {"field": "m"},
  "color": {"datum": "With fingerprints, no gaps", "type": "nominal"},
  "strokeDash": {"datum": "With fingerprints, no gaps", "type": "nominal"}}},
{"mark": {"type": "line", "strokeWidth": 1.8},
 "encoding": {
  "x": {"field": "t", "type": "quantitative", "axis": {"orient": "top", "values": [1880, 1920, 1960, 2000], "labels": false, "title": null}},
  "y": {"field": "r", "type": "quantitative", "axis": {"orient": "right", "values": [0, 250, 500, 750, 1000, 1250, 1500], "labels": false, "title": null}},
  "detail": {"field": "m"},
  "color": {"datum": "Reference GMSL", "type": "nominal"},
  "strokeDash": {"datum": "Reference GMSL", "type": "nominal"}}},
{"data": {"name": "labels"},
 "transform": [{"filter": "datum.p == 1"}],
 "mark": {"type": "text", "align": "left", "baseline": "middle", "fontSize": 9, "color": "#222222", "font": "Open Sans"},
 "encoding": {
  "x": {"field": "t", "type": "quantitative", "axis": null},
  "y": {"field": "v", "type": "quantitative", "axis": null},
  "text": {"field": "m"}}}
]
},
{
"width": 211, "height": 496,
"data": {"name": "series"},
"transform": [{"filter": "datum.p == 2"}],
"resolve": {"axis": {"x": "independent", "y": "independent"}},
"layer": [
{"mark": {"type": "area", "color": "#f08cb0", "opacity": 0.8},
 "encoding": {
  "x": {"field": "t", "type": "quantitative", "scale": {"domain": [1870, 2010], "nice": false, "zero": false},
        "axis": {"orient": "bottom", "values": [1880, 1920, 1960, 2000], "format": "d", "title": "Time [yr]", "labelPadding": 9, "titlePadding": 3}},
  "y": {"field": "lo", "type": "quantitative", "stack": null, "scale": {"domain": [-100, 1700], "nice": false, "zero": false},
        "axis": {"orient": "left", "values": [0, 250, 500, 750, 1000, 1250, 1500], "labels": false, "title": null}},
  "y2": {"field": "hi"},
  "detail": {"field": "m"}}},
{"mark": {"type": "line", "strokeWidth": 1.3},
 "encoding": {
  "x": {"field": "t", "type": "quantitative", "axis": null},
  "y": {"field": "nf", "type": "quantitative", "axis": null},
  "detail": {"field": "m"},
  "color": {"datum": "No fingerprints", "type": "nominal"},
  "strokeDash": {"datum": "No fingerprints", "type": "nominal"}}},
{"mark": {"type": "line", "strokeWidth": 1.1},
 "encoding": {
  "x": {"field": "t", "type": "quantitative", "axis": null},
  "y": {"field": "ng", "type": "quantitative", "axis": null},
  "detail": {"field": "m"},
  "color": {"datum": "No fingerprints, no gaps", "type": "nominal"},
  "strokeDash": {"datum": "No fingerprints, no gaps", "type": "nominal"}}},
{"mark": {"type": "line", "strokeWidth": 1.2},
 "encoding": {
  "x": {"field": "t", "type": "quantitative", "axis": null},
  "y": {"field": "wf", "type": "quantitative", "axis": null},
  "detail": {"field": "m"},
  "color": {"datum": "With fingerprints", "type": "nominal"},
  "strokeDash": {"datum": "With fingerprints", "type": "nominal"}}},
{"mark": {"type": "line", "strokeWidth": 1.1},
 "encoding": {
  "x": {"field": "t", "type": "quantitative", "axis": null},
  "y": {"field": "wg", "type": "quantitative", "axis": null},
  "detail": {"field": "m"},
  "color": {"datum": "With fingerprints, no gaps", "type": "nominal"},
  "strokeDash": {"datum": "With fingerprints, no gaps", "type": "nominal"}}},
{"mark": {"type": "line", "strokeWidth": 1.8},
 "encoding": {
  "x": {"field": "t", "type": "quantitative", "axis": {"orient": "top", "values": [1880, 1920, 1960, 2000], "labels": false, "title": null}},
  "y": {"field": "r", "type": "quantitative", "axis": {"orient": "right", "values": [0, 250, 500, 750, 1000, 1250, 1500], "format": "d", "title": "GMSL [mm]", "titleAngle": 270, "labelPadding": 9, "titlePadding": 8}},
  "detail": {"field": "m"},
  "color": {"datum": "Reference GMSL", "type": "nominal",
   "scale": {"domain": ["Reference GMSL", "No fingerprints", "No fingerprints, no gaps", "With fingerprints", "With fingerprints, no gaps"],
             "range": ["#111111", "#2b2bd6", "#2b2bd6", "#dc1a36", "#dc1a36"]},
   "legend": {"orient": "none", "legendX": 304, "legendY": 410, "title": null, "symbolType": "stroke", "symbolSize": 144,
              "labelFontSize": 7.5, "labelColor": "#333333", "labelFont": "Open Sans", "rowPadding": 2.5, "labelOffset": 4, "clipHeight": 9.5,
              "encode": {"symbols": {"update": {
                 "strokeWidth": {"signal": "datum.value === 'With fingerprints' ? 5 : (datum.value === 'Reference GMSL' ? 2 : 1.5)"},
                 "stroke": {"signal": "datum.value === 'With fingerprints' ? '#e8607f' : scale('color', datum.value)"}}}}}},
  "strokeDash": {"datum": "Reference GMSL", "type": "nominal",
   "scale": {"domain": ["Reference GMSL", "No fingerprints", "No fingerprints, no gaps", "With fingerprints", "With fingerprints, no gaps"],
             "range": [[1, 0], [1, 0], [2, 1.5], [1, 0], [2, 1.5]]}}}},
{"data": {"name": "labels"},
 "transform": [{"filter": "datum.p == 2"}],
 "mark": {"type": "text", "align": "left", "baseline": "middle", "fontSize": 9, "color": "#222222", "font": "Open Sans"},
 "encoding": {
  "x": {"field": "t", "type": "quantitative", "axis": null},
  "y": {"field": "v", "type": "quantitative", "axis": null},
  "text": {"field": "m"}}}
]
}
],
"config": {
 "font": "Open Sans",
 "view": {"stroke": "#8a8a8a", "strokeWidth": 1},
 "axis": {"grid": false, "domain": false, "tickColor": "#8a8a8a", "tickSize": -4, "labelFontSize": 7.5, "labelColor": "#555555",
          "titleFontSize": 7.5, "titleFontWeight": "normal", "titleColor": "#555555", "labelFont": "Open Sans", "titleFont": "Open Sans"}
}
}
